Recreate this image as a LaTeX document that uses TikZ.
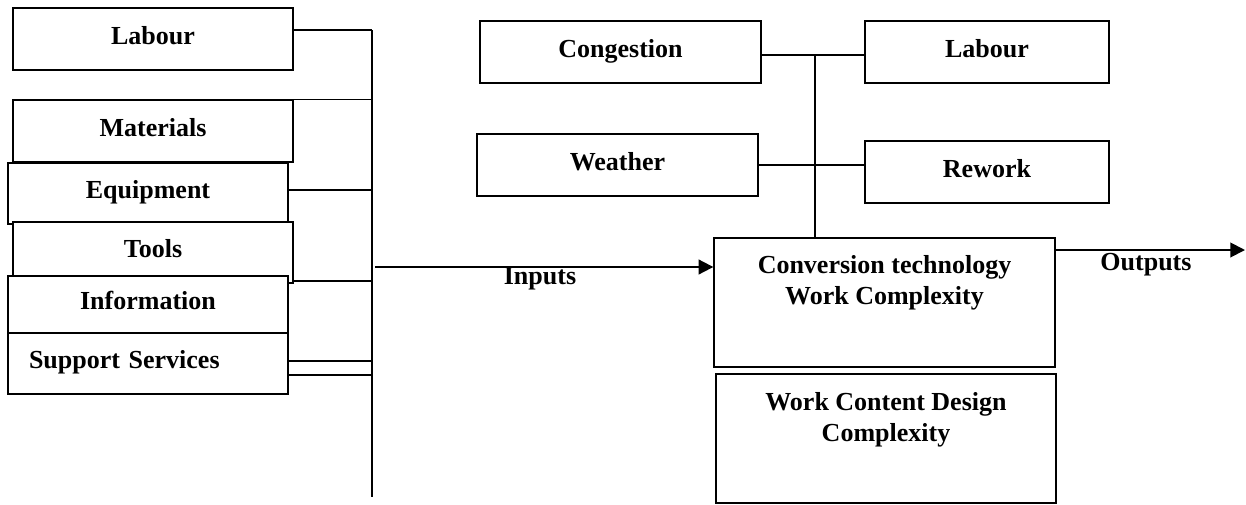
\documentclass[tikz,border=0pt]{standalone}
\usepackage{fontspec}
\setmainfont{Liberation Serif}
\usetikzlibrary{arrows.meta}

\tikzset{
  x=0.75pt, y=-0.75pt,
  every node/.style={font=\fontsize{19.5pt}{23.25pt}\selectfont\bfseries, inner sep=0pt},
  box/.style={draw, line width=1pt, fill=white, text height=13pt, text depth=5.5pt},
  link/.style={line width=0.9pt},
  bus/.style={line width=1.4pt},
  flow/.style={line width=1.4pt, -{Triangle[length=11pt,width=11pt]}},
}

% \panel[options]{name}{x1}{y1}{x2}{y2}{text}: a framed box given by its corners
\newcommand\panel[7][]{%
  \node[box, minimum width={(#5-#3)*0.75pt}, minimum height={(#6-#4)*0.75pt}, #1]
    (#2) at ({(#3+#5)/2},{(#4+#6)/2}) {#7};}

\begin{document}
\begin{tikzpicture}
\useasboundingbox (0,0) rectangle (1246,504);
\fill[white] (0,0) rectangle (1246,504);

% resources feeding the process
\panel{labL}{13}{8}{293}{70}{Labour}
\panel{mat}{13}{100}{293}{162}{Materials}
\panel{equ}{8}{163}{288}{224}{Equipment}
\panel{tool}{13}{222}{293}{283}{Tools}
\panel{info}{8}{276}{288}{333}{Information}
\panel[text width=178.5pt, align=left]{sup}{8}{333}{288}{394}{Support Services}

% collecting bus
\coordinate (busTop) at (372,30);
\coordinate (busBot) at (372,497);
\coordinate (bE) at (372,190);
\coordinate (bT) at (372,281);
\coordinate (bS1) at (372,361);
\coordinate (bS2) at (372,375);
\draw[bus] (busTop) -- (busBot);
\draw[link] (busTop -| labL.east) -- (busTop);
\draw[link] (mat.north east) -- (mat.north east -| busTop);
\draw[link] (bE -| equ.east) -- (bE);
\draw[link] (bT -| tool.east) -- (bT);
\draw[link] (bS1 -| sup.east) -- (bS1);
\draw[link] (bS2 -| sup.east) -- (bS2);

% influencing factors
\panel{cong}{480}{21}{761}{83}{Congestion}
\panel{labR}{865}{21}{1109}{83}{Labour}
\panel{wea}{477}{134}{758}{196}{Weather}
\panel{rew}{865}{141}{1109}{203}{Rework}

% process boxes
\panel{conv}{714}{238}{1055}{367}{}
\panel{wcd}{716}{374}{1056}{503}{}
\node[align=center, anchor=north] (convText) at ({(714+1055)/2},255.4)
  {Conversion technology\\Work Complexity};
\node[align=center, anchor=north] (wcdText) at ({(716+1056)/2},392.2)
  {Work Content Design\\Complexity};

\coordinate (tap) at (815,55);
\draw[link, line width=1.1pt] (tap -| cong.east) -- (tap -| labR.west);
\draw[bus] (tap) -- (tap |- conv.north);
\draw[link, line width=1.1pt] (wea.east) -- (wea.east -| rew.west);

% flows
\coordinate (inStart) at (375,267);
\coordinate (outEnd) at (1245,250);
\draw[flow] (inStart) -- (inStart -| conv.west);
\draw[flow] (outEnd -| conv.east) -- (outEnd);
\node[anchor=base] (inLbl) at (540,284) {Inputs};
\node[anchor=base] (outLbl) at (1146,270) {Outputs};
\end{tikzpicture}
\end{document}
